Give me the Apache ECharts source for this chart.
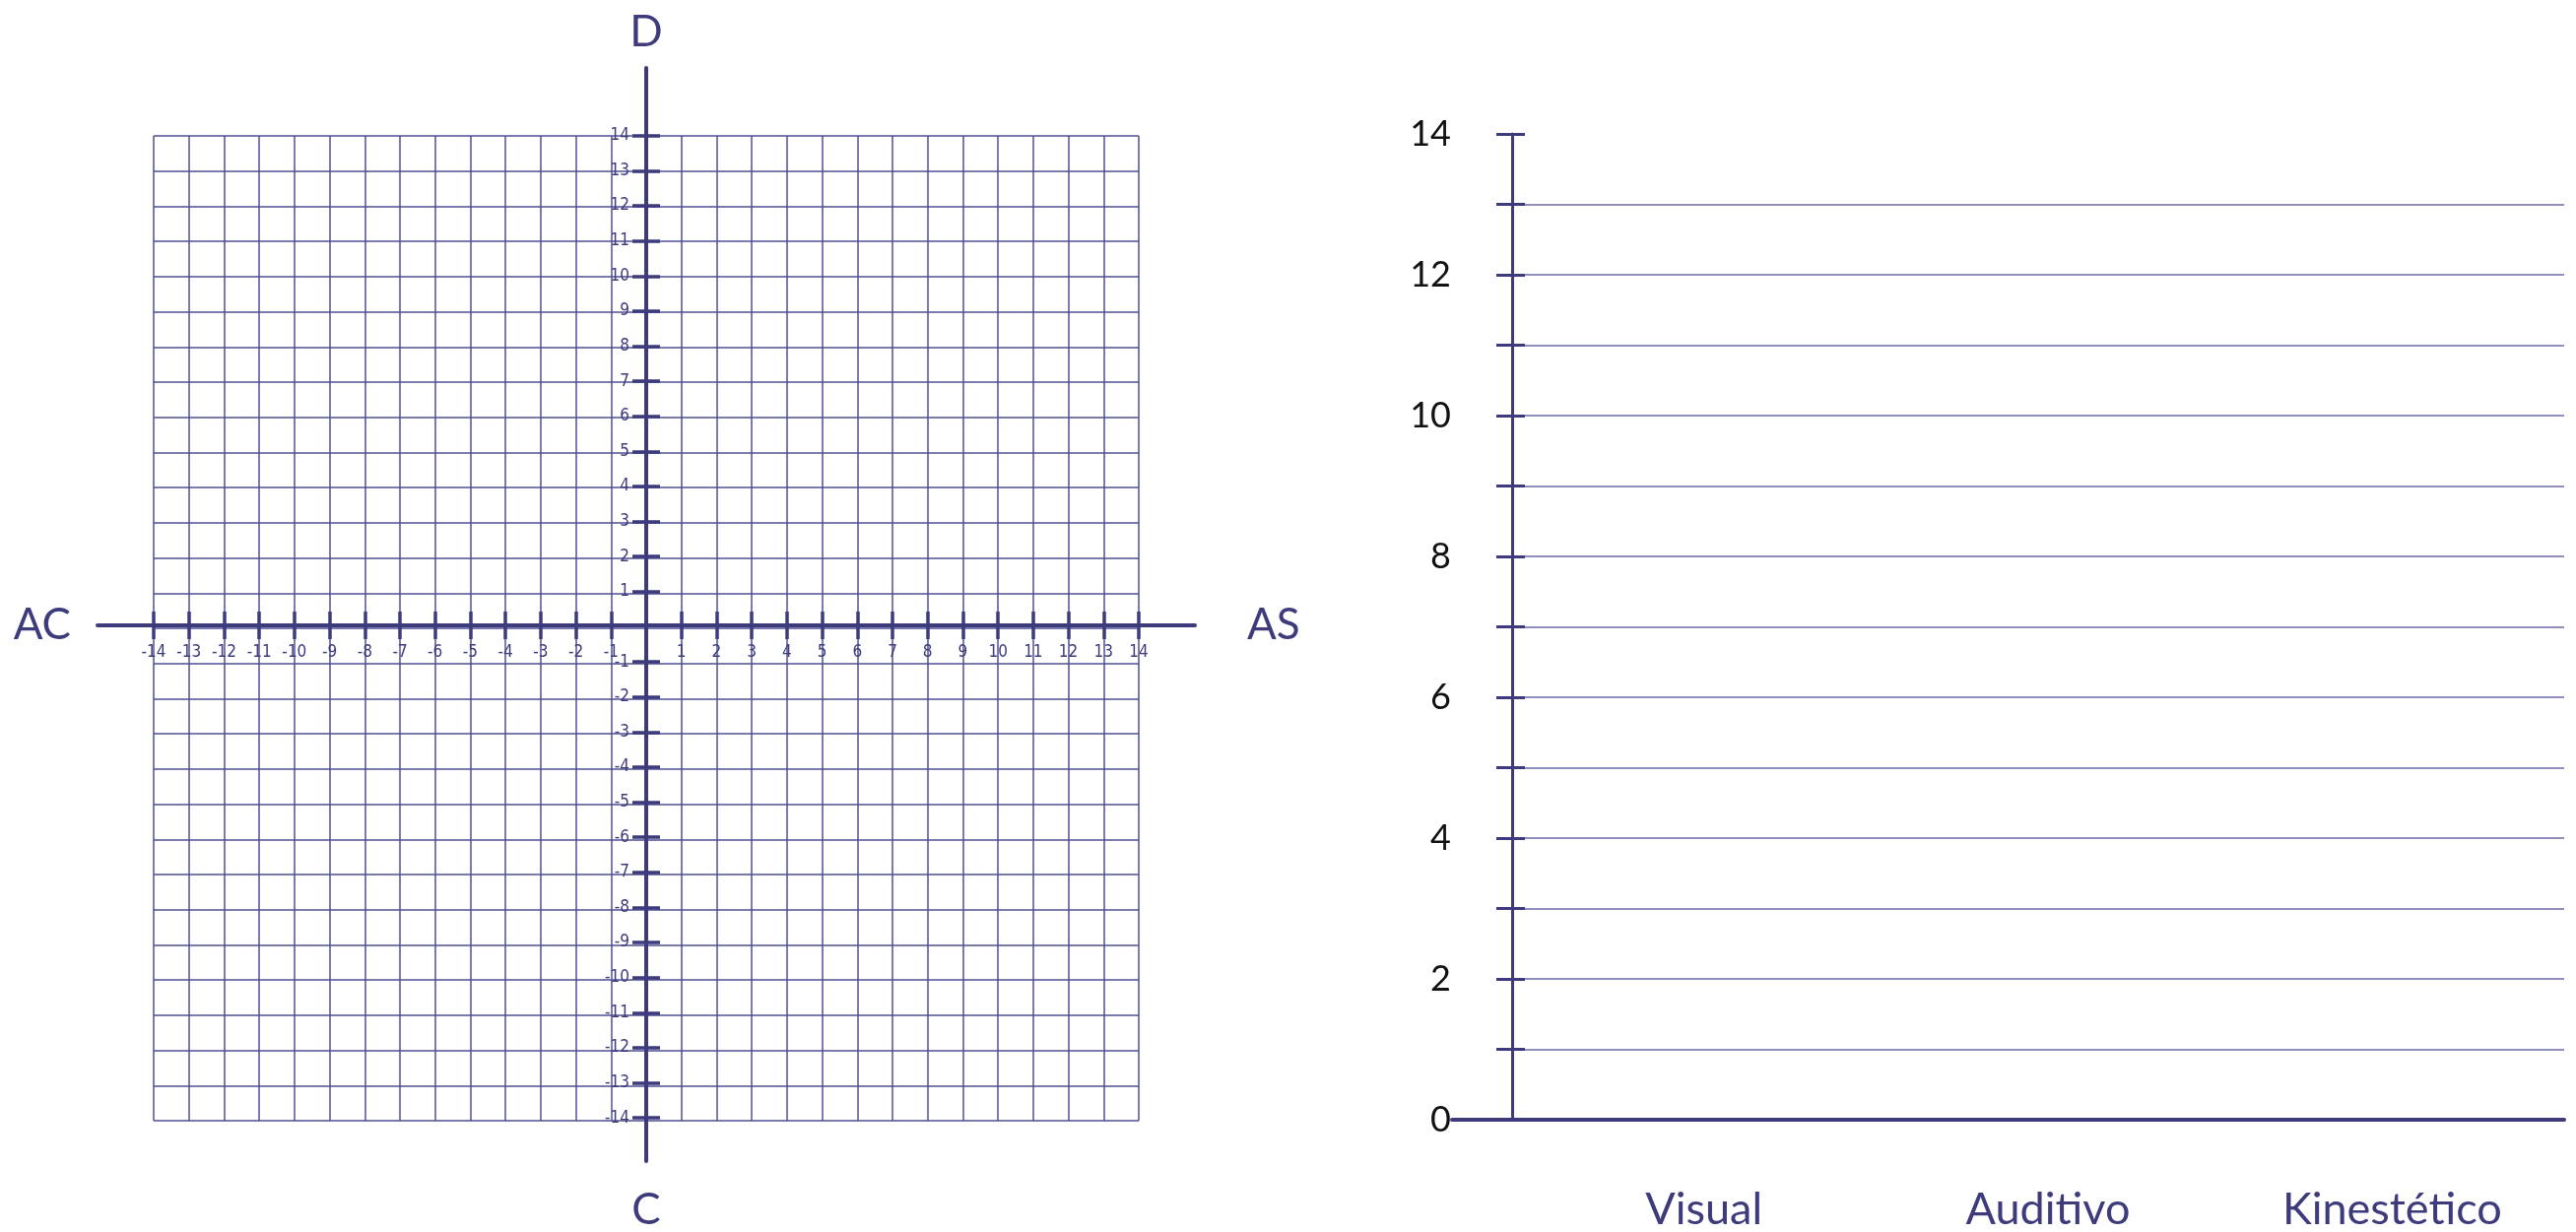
<!DOCTYPE html>
<html>
<head>
<meta charset="utf-8">
<script src="https://cdn.jsdelivr.net/npm/echarts@6/dist/echarts.min.js"></script>
<style>
html,body{margin:0;padding:0;background:#ffffff;}
#chart{width:2615px;height:1251px;}
</style>
</head>
<body>
<div id="chart"></div>
<script>
// ---- data ----
const quadrantTicks = [-14,-13,-12,-11,-10,-9,-8,-7,-6,-5,-4,-3,-2,-1,1,2,3,4,5,6,7,8,9,10,11,12,13,14];
const quadrantNames = { right: 'AS', left: 'AC', top: 'D', bottom: 'C' };
const quadrantPoints = [];          // the reference plane is empty
const categories = ['Visual', 'Auditivo', 'Kinestético'];
const scores = [];                   // the reference bar chart is empty
const scoreMin = 0, scoreMax = 14, scoreStep = 1;

// ---- styles ----
const AXIS = '#3d3b7c';
const GRIDL = '#4f4f92';
const GRIDR = '#6a68a6';
const FONT = 'Lato, "Noto Sans", sans-serif';
const TICKFONT = '"DejaVu Sans Condensed", "Liberation Sans Narrow", "DejaVu Sans", sans-serif';

// quadrant axes grid: x from 99 to 1213, y from 69 to 1182; origin at (656, 638)
const XOFF = -(1182 - 638);   // move bottom x axis up to the origin row
const YOFF = -(656 - 99);     // move left y axis right to the origin column

const chart = echarts.init(document.getElementById('chart'), null, { renderer: 'canvas' });

const option = {
  animation: false,
  backgroundColor: '#ffffff',
  grid: [
    { left: 156, top: 138, width: 1000, height: 1000 },   // 0 quadrant grid lines
    { left: 99,  top: 69,  width: 1114, height: 1113 },   // 1 quadrant axes
    { left: 1535, top: 136, width: 1068, height: 1001 },  // 2 score y axis + lines
    { left: 1474, top: 136, width: 1129, height: 1001 },  // 3 score base line
    { left: 1555, top: 136, width: 1048, height: 1001 }   // 4 score categories
  ],
  xAxis: [
    { gridIndex: 0, type: 'value', position: 'bottom', min: -14, max: 14, interval: 1,
      axisLine: { show: false }, axisTick: { show: false }, axisLabel: { show: false },
      splitLine: { show: true, lineStyle: { color: GRIDL, width: 1.5 } } },
    { gridIndex: 1, type: 'value', position: 'bottom', offset: XOFF, min: -15.596, max: 15.596,
      axisLine: { show: true, onZero: false, lineStyle: { color: AXIS, width: 4 } },
      axisTick: { show: true, customValues: quadrantTicks, length: 14, inside: false, lineStyle: { color: AXIS, width: 3.5 } },
      axisLabel: { show: true, customValues: quadrantTicks, margin: 19, fontSize: 17, color: AXIS, fontFamily: TICKFONT },
      splitLine: { show: false },
      name: quadrantNames.right, nameLocation: 'end', nameGap: 53,
      nameTextStyle: { fontSize: 44, color: AXIS, fontFamily: FONT } },
    { gridIndex: 1, type: 'value', position: 'bottom', offset: XOFF, min: -15.596, max: 15.596,
      axisLine: { show: false, onZero: false },
      axisTick: { show: true, customValues: quadrantTicks, length: 14, inside: true, lineStyle: { color: AXIS, width: 3.5 } },
      axisLabel: { show: false }, splitLine: { show: false },
      name: quadrantNames.left, nameLocation: 'start', nameGap: 27,
      nameTextStyle: { fontSize: 44, color: AXIS, fontFamily: FONT } },
    { gridIndex: 2, type: 'value', position: 'bottom', min: 0, max: 1, show: false },
    { gridIndex: 3, type: 'value', position: 'bottom', min: 0, max: 1,
      axisLine: { show: true, onZero: false, lineStyle: { color: AXIS, width: 4 } },
      axisTick: { show: false }, axisLabel: { show: false }, splitLine: { show: false } },
    { gridIndex: 4, type: 'category', position: 'bottom', data: categories,
      axisLine: { show: false }, axisTick: { show: false }, splitLine: { show: false },
      axisLabel: { margin: 70, fontSize: 45, color: AXIS, fontFamily: FONT } }
  ],
  yAxis: [
    { gridIndex: 0, type: 'value', position: 'left', min: -14, max: 14, interval: 1,
      axisLine: { show: false }, axisTick: { show: false }, axisLabel: { show: false },
      splitLine: { show: true, lineStyle: { color: GRIDL, width: 1.5 } } },
    { gridIndex: 1, type: 'value', position: 'left', offset: YOFF, min: -15.232, max: 15.932,
      axisLine: { show: true, onZero: false, lineStyle: { color: AXIS, width: 4 } },
      axisTick: { show: true, customValues: quadrantTicks, length: 14, inside: false, lineStyle: { color: AXIS, width: 3.5 } },
      axisLabel: { show: true, customValues: quadrantTicks, margin: 17, fontSize: 17, color: AXIS, fontFamily: TICKFONT },
      splitLine: { show: false },
      name: quadrantNames.top, nameLocation: 'end', nameGap: 14,
      nameTextStyle: { fontSize: 44, color: AXIS, fontFamily: FONT } },
    { gridIndex: 1, type: 'value', position: 'left', offset: YOFF, min: -15.232, max: 15.932,
      axisLine: { show: false, onZero: false },
      axisTick: { show: true, customValues: quadrantTicks, length: 14, inside: true, lineStyle: { color: AXIS, width: 3.5 } },
      axisLabel: { show: false }, splitLine: { show: false },
      name: quadrantNames.bottom, nameLocation: 'start', nameGap: 28,
      nameTextStyle: { fontSize: 44, color: AXIS, fontFamily: FONT } },
    { gridIndex: 2, type: 'value', position: 'left', min: scoreMin, max: scoreMax, interval: scoreStep,
      axisLine: { show: true, lineStyle: { color: AXIS, width: 3 } },
      axisTick: { show: true, length: 16, inside: false, lineStyle: { color: AXIS, width: 3 } },
      axisLabel: { show: true, margin: 62, fontSize: 36, color: '#111111', fontFamily: FONT,
                   formatter: v => (v % 2 === 0 ? String(v) : '') },
      splitLine: { show: true, showMinLine: false, showMaxLine: false, lineStyle: { color: GRIDR, width: 1.5 } } },
    { gridIndex: 2, type: 'value', position: 'left', min: scoreMin, max: scoreMax, interval: scoreStep,
      axisLine: { show: false },
      axisTick: { show: true, length: 13, inside: true, lineStyle: { color: AXIS, width: 3 } },
      axisLabel: { show: false }, splitLine: { show: false } },
    { gridIndex: 3, type: 'value', position: 'left', min: scoreMin, max: scoreMax, show: false },
    { gridIndex: 4, type: 'value', position: 'left', min: scoreMin, max: scoreMax, show: false }
  ],
  series: [
    { type: 'scatter', xAxisIndex: 0, yAxisIndex: 0, data: quadrantPoints },
    { type: 'bar', xAxisIndex: 5, yAxisIndex: 6, data: scores, itemStyle: { color: AXIS } }
  ]
};

chart.setOption(option);
</script>
</body>
</html>
